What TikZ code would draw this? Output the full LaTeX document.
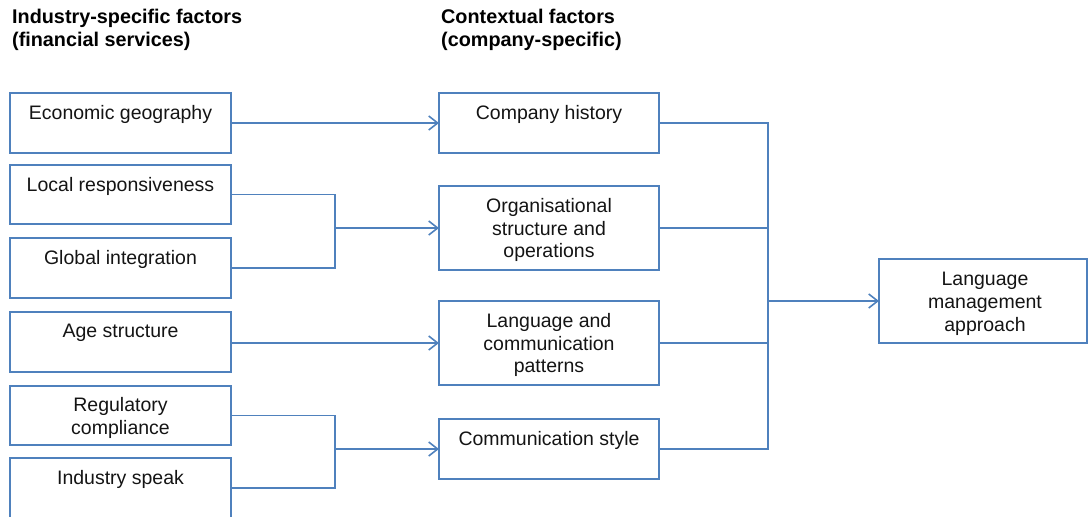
\documentclass[tikz,border=0pt]{standalone}
\usepackage{fontspec}
\setmainfont{Liberation Sans}
\usetikzlibrary{arrows.meta}
\definecolor{lineblue}{HTML}{4F81BD}
\definecolor{txtcol}{HTML}{141414}
\begin{document}
\begin{tikzpicture}[x=1pt,y=-1pt,
  box/.style={draw=lineblue, line width=1.2pt, rectangle, inner sep=0pt, outer sep=0pt, anchor=north west},
  txt/.style={anchor=north, align=center, font=\fontsize{19.5}{22.7}\selectfont, text=txtcol, inner sep=0pt},
  ttl/.style={anchor=north west, align=left, font=\fontsize{19.8}{23}\selectfont\bfseries, text=black, inner sep=0pt},
  conn/.style={draw=lineblue, line width=1.3pt},
  arr/.style={conn, -{Straight Barb[length=9pt,width=14pt,line width=1.6pt]}}]
\useasboundingbox (0,0) rectangle (1088,517);
\clip (0,0) rectangle (1088,517);

% titles
\node[ttl] (t1) at (12,9) {Industry-specific factors\\(financial services)};
\node[ttl] (t2) at (441,9) {Contextual factors\\(company-specific)};

% left column
\node[box, minimum width=221pt, minimum height=60pt] (eg) at (10,93) {};
\node[box, minimum width=221pt, minimum height=59pt] (lr) at (10,165) {};
\node[box, minimum width=221pt, minimum height=60pt] (gi) at (10,238) {};
\node[box, minimum width=221pt, minimum height=60pt] (as) at (10,312) {};
\node[box, minimum width=221pt, minimum height=59pt] (rc) at (10,386) {};
\node[box, minimum width=221pt, minimum height=60pt] (is) at (10,458) {};

\node[txt] (egt) at ([yshift=-12pt]eg.north) {Economic geography};
\node[txt] (lrt) at ([yshift=-12pt]lr.north) {Local responsiveness};
\node[txt] (git) at ([yshift=-12pt]gi.north) {Global integration};
\node[txt] (ast) at ([yshift=-12pt]as.north) {Age structure};
\node[txt] (rct) at ([yshift=-11pt]rc.north) {Regulatory\\compliance};
\node[txt] (ist) at ([yshift=-12pt]is.north) {Industry speak};

% middle column
\node[box, minimum width=220pt, minimum height=60pt] (ch) at (439,93) {};
\node[box, minimum width=220pt, minimum height=84pt] (os) at (439,186) {};
\node[box, minimum width=220pt, minimum height=84pt] (lc) at (439,301) {};
\node[box, minimum width=220pt, minimum height=60pt] (cs) at (439,419) {};

\node[txt] (cht) at ([yshift=-12pt]ch.north) {Company history};
\node[txt] (ost) at ([yshift=-12pt]os.north) {Organisational\\structure and\\operations};
\node[txt] (lct) at ([yshift=-12pt]lc.north) {Language and\\communication\\patterns};
\node[txt] (cst) at ([yshift=-12pt]cs.north) {Communication style};

% right box
\node[box, minimum width=208pt, minimum height=84pt] (lm) at (879,259) {};
\node[txt] (lmt) at ([yshift=-13pt, xshift=2pt]lm.north) {Language\\management\\approach};

% connectors left -> middle
\draw[arr] (eg.east) -- (eg.east -| ch.west);
\coordinate (m1) at (335,228);
\draw[conn] (lr.east) -| (m1);
\draw[conn] (gi.east) -| (m1);
\draw[arr] (m1) -- (m1 -| os.west);
\draw[arr] (lc.west -| as.east) -- (lc.west);
\coordinate (m2) at (335,449);
\draw[conn] (rc.east) -| (m2);
\draw[conn] (is.east) -| (m2);
\draw[arr] (m2) -- (m2 -| cs.west);

% connectors middle -> right
\coordinate (m3) at (768,301);
\draw[conn] (ch.east) -| (m3);
\draw[conn] (os.east) -| (m3);
\draw[conn] (lc.east) -| (m3);
\draw[conn] (cs.east) -| (m3);
\draw[arr] (m3) -- (m3 -| lm.west);
\end{tikzpicture}
\end{document}
